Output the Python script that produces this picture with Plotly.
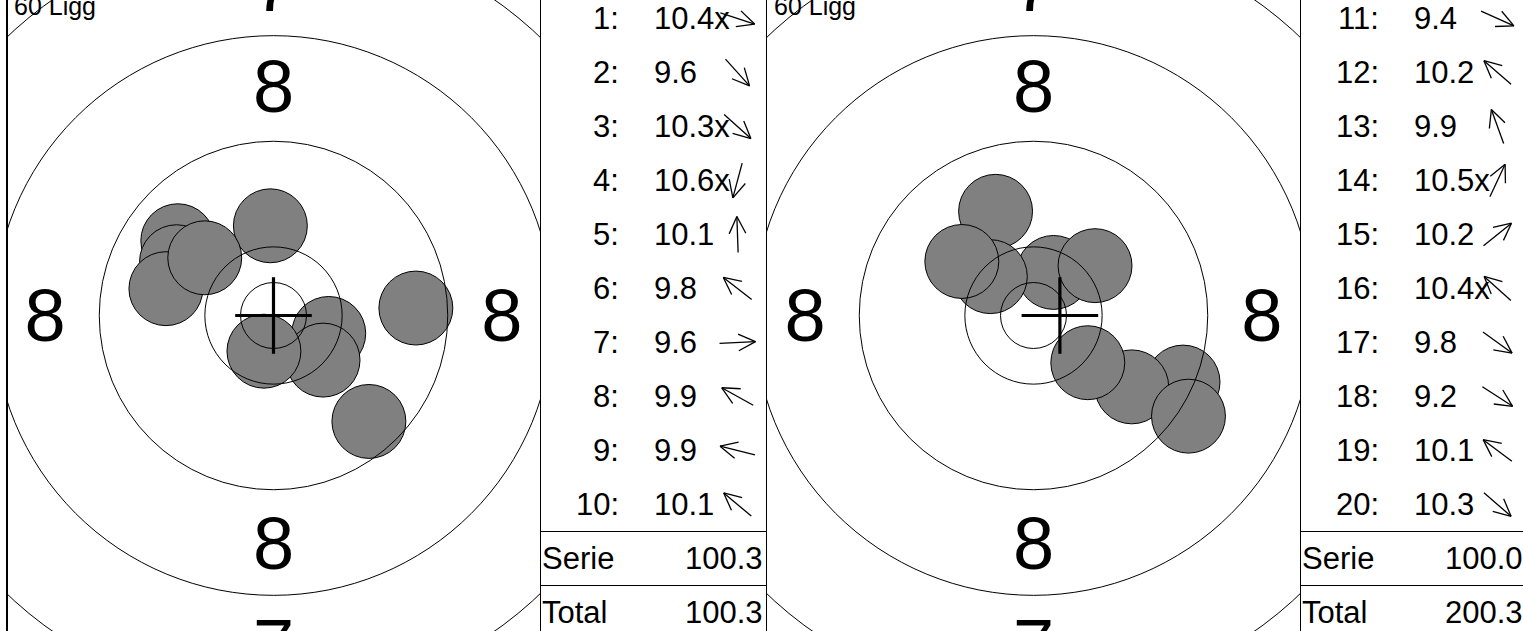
import math
import plotly.graph_objects as go

# ---------------- shooting data ----------------
# Series 1: shots 1-10
S1_SHOT_NO = list(range(1, 11))
S1_SCORES = [10.4, 9.6, 10.3, 10.6, 10.1, 9.8, 9.6, 9.9, 9.9, 10.1]
S1_INNER_TEN = [True, False, True, True, False, False, False, False, False, False]
S1_DIRECTION_DEG = [-18, -48, -42, -105, 92, 142, 3, 151, 166, 140]
S1_GROUP_CENTRE_MM = [0.0, 0.0]

# Series 2: shots 11-20
S2_SHOT_NO = list(range(11, 21))
S2_SCORES = [9.4, 10.2, 9.9, 10.5, 10.2, 10.4, 9.8, 9.2, 10.1, 10.3]
S2_INNER_TEN = [False, False, False, True, False, True, False, False, False, False]
S2_DIRECTION_DEG = [-24, 139, 110, 65, 39, 138, -36, -33, 143, -41]
S2_GROUP_CENTRE_MM = [2.0, 0.0]

# 50 m rifle target geometry
RING_VALUES = [10, 9, 8, 7, 6]
RING_DIAMETERS_MM = [10.4, 26.4, 42.4, 58.4, 74.4]
INNER_TEN_DIAMETER_MM = 5.0
BULLET_DIAMETER_MM = 5.6
ZONE_NUMBERS = [8, 7]
ZONE_LABEL_RADIUS_MM = [17.3, 25.0]

POSITION_LABEL = "60 Ligg"
SUMMARY_LABELS = ["Serie", "Total"]

# ---------------- drawing constants ----------------
W, H = 1523, 631
PX_PER_MM = 13.2
PANEL_X0 = [6.5, 766.5]      # left edge of each series panel (px)
TARGET_W = 534                # target area width (px)
TABLE_W = 226                 # score table width (px)
ROW_Y0, ROW_H = 18.5, 54      # first row centre and row pitch (px)
ARROW_CX = 197                # arrow centre inside the table (px)
ARROW_LEN, HEAD_LEN, HEAD_ANG = 36, 19, 26
LABEL_NUDGE_MM = -0.5         # optical centring of the large zone numbers
FONT = "Liberation Sans, Arial, Helvetica, sans-serif"
TABLE_FONT_SIZE = 31
SHOT_FILL = "#808080"

RING_STEP_MM = (RING_DIAMETERS_MM[1] - RING_DIAMETERS_MM[0]) / 2


def shot_distance_mm(score, inner):
    """Centre distance implied by a decimal score (middle of its 0.1 band)."""
    lo = (11.0 - score - 0.1) * RING_STEP_MM
    hi = (11.0 - score) * RING_STEP_MM
    x_limit = (INNER_TEN_DIAMETER_MM + BULLET_DIAMETER_MM) / 2
    if inner:
        hi = min(hi, x_limit)
    else:
        lo = max(lo, x_limit)
    return (lo + hi) / 2


series = [
    (S1_SHOT_NO, S1_SCORES, S1_INNER_TEN, S1_DIRECTION_DEG, S1_GROUP_CENTRE_MM),
    (S2_SHOT_NO, S2_SCORES, S2_INNER_TEN, S2_DIRECTION_DEG, S2_GROUP_CENTRE_MM),
]

fig = go.Figure()
shapes = []
annotations = []

half_x = TARGET_W / 2 / PX_PER_MM
half_y = H / 2 / PX_PER_MM
running_total = 0.0


def table_text(x, y, text, anchor):
    return dict(x=x, y=y, xref="x3", yref="y3", text=text, showarrow=False,
                xanchor=anchor, yanchor="middle", borderpad=0, borderwidth=0,
                font=dict(family=FONT, size=TABLE_FONT_SIZE, color="black"))


for k, (shot_no, scores, inner, direction, centre) in enumerate(series):
    xa = "x" if k == 0 else "x2"
    ya = "y" if k == 0 else "y2"
    x0 = PANEL_X0[k]
    tx0 = x0 + TARGET_W

    # shots, drawn in firing order
    xs, ys = [], []
    for s, flag, ang in zip(scores, inner, direction):
        d = shot_distance_mm(s, flag)
        xs.append(d * math.cos(math.radians(ang)))
        ys.append(d * math.sin(math.radians(ang)))
    fig.add_trace(go.Scatter(
        x=xs, y=ys, mode="markers", xaxis=xa, yaxis=ya, hoverinfo="skip",
        marker=dict(size=BULLET_DIAMETER_MM * PX_PER_MM, color=SHOT_FILL,
                    line=dict(color="black", width=1)),
    ))

    # zone numbers on the axes of the target (only those inside the target width)
    lx, ly, lt = [], [], []
    for z, r_mid in zip(ZONE_NUMBERS, ZONE_LABEL_RADIUS_MM):
        for px, py in [(0, r_mid), (0, -r_mid), (-r_mid, 0), (r_mid, 0)]:
            if abs(px) > half_x:
                continue
            lx.append(px)
            ly.append(py + LABEL_NUDGE_MM)
            lt.append(str(z))
    fig.add_trace(go.Scatter(
        x=lx, y=ly, text=lt, mode="text", xaxis=xa, yaxis=ya, hoverinfo="skip",
        textposition="middle center", cliponaxis=True,
        textfont=dict(family=FONT, size=74, color="black"),
    ))

    # ring lines above the shots
    radii = [INNER_TEN_DIAMETER_MM / 2] + [d / 2 for d in RING_DIAMETERS_MM]
    for r in radii:
        shapes.append(dict(type="circle", xref=xa, yref=ya, x0=-r, x1=r, y0=-r, y1=r,
                           line=dict(color="black", width=1), layer="above"))

    # group centre cross
    arm = 2.9
    cx, cy = centre
    shapes.append(dict(type="line", xref=xa, yref=ya, x0=cx - arm, x1=cx + arm, y0=cy, y1=cy,
                       line=dict(color="black", width=3.2), layer="above"))
    shapes.append(dict(type="line", xref=xa, yref=ya, x0=cx, x1=cx, y0=cy - arm, y1=cy + arm,
                       line=dict(color="black", width=3.2), layer="above"))

    # panel / table frame
    edge = x0 + (0.5 if k == 0 else 0)
    shapes.append(dict(type="line", xref="x3", yref="y3", x0=edge, x1=edge, y0=0, y1=H,
                       line=dict(color="black", width=2 if k == 0 else 1)))
    shapes.append(dict(type="line", xref="x3", yref="y3", x0=tx0, x1=tx0, y0=0, y1=H,
                       line=dict(color="black", width=1)))
    shapes.append(dict(type="line", xref="x3", yref="y3", x0=tx0 + TABLE_W, x1=tx0 + TABLE_W,
                       y0=0, y1=H, line=dict(color="black", width=1)))
    for j in range(2):
        yl = ROW_Y0 + ROW_H * (len(scores) - 0.5 + j)
        shapes.append(dict(type="line", xref="x3", yref="y3", x0=tx0, x1=tx0 + TABLE_W,
                           y0=yl, y1=yl, line=dict(color="black", width=1)))

    # position label
    annotations.append(dict(x=x0 + 7, y=6.3, xref="x3", yref="y3", text=POSITION_LABEL,
                            showarrow=False, xanchor="left", yanchor="middle",
                            borderpad=0, borderwidth=0,
                            font=dict(family=FONT, size=25, color="black")))

    # score rows with direction arrows
    ax_, ay_ = [], []
    for i, (n, s, flag, ang) in enumerate(zip(shot_no, scores, inner, direction)):
        yc = ROW_Y0 + ROW_H * i
        annotations.append(table_text(tx0 + 78.5, yc, f"{n}:", "right"))
        annotations.append(table_text(tx0 + 113, yc, f"{s:.1f}" + ("x" if flag else ""), "left"))
        a = math.radians(ang)
        ux, uy = math.cos(a), -math.sin(a)
        acx = tx0 + ARROW_CX
        tipx, tipy = acx + ux * ARROW_LEN / 2, yc + uy * ARROW_LEN / 2
        tailx, taily = acx - ux * ARROW_LEN / 2, yc - uy * ARROW_LEN / 2
        ax_ += [tailx, tipx, None]
        ay_ += [taily, tipy, None]
        for sgn in (1, -1):
            b = a + sgn * math.radians(HEAD_ANG)
            ax_ += [tipx - HEAD_LEN * math.cos(b), tipx, None]
            ay_ += [tipy + HEAD_LEN * math.sin(b), tipy, None]
    fig.add_trace(go.Scatter(x=ax_, y=ay_, mode="lines", xaxis="x3", yaxis="y3",
                             hoverinfo="skip", line=dict(color="black", width=1.3)))

    serie = round(sum(scores), 1)
    running_total = round(running_total + serie, 1)
    for j, (lab, val) in enumerate(zip(SUMMARY_LABELS, [serie, running_total])):
        yc = ROW_Y0 + ROW_H * (len(scores) + j)
        annotations.append(table_text(tx0 + 1.5, yc, lab, "left"))
        annotations.append(table_text(tx0 + 222.5, yc, f"{val:.1f}", "right"))

hidden = dict(visible=False, showgrid=False, zeroline=False, fixedrange=True)
fig.update_layout(
    width=W, height=H, margin=dict(l=0, r=0, t=0, b=0, pad=0),
    paper_bgcolor="white", plot_bgcolor="rgba(0,0,0,0)", showlegend=False,
    xaxis=dict(domain=[PANEL_X0[0] / W, (PANEL_X0[0] + TARGET_W) / W], range=[-half_x, half_x], **hidden),
    yaxis=dict(domain=[0, 1], range=[-half_y, half_y], **hidden),
    xaxis2=dict(domain=[PANEL_X0[1] / W, (PANEL_X0[1] + TARGET_W) / W], range=[-half_x, half_x],
                anchor="y2", **hidden),
    yaxis2=dict(domain=[0, 1], range=[-half_y, half_y], anchor="x2", **hidden),
    xaxis3=dict(domain=[0, 1], range=[0, W], anchor="y3", **hidden),
    yaxis3=dict(domain=[0, 1], range=[H, 0], anchor="x3", **hidden),
    shapes=shapes, annotations=annotations,
)

fig.write_html("out.html")
